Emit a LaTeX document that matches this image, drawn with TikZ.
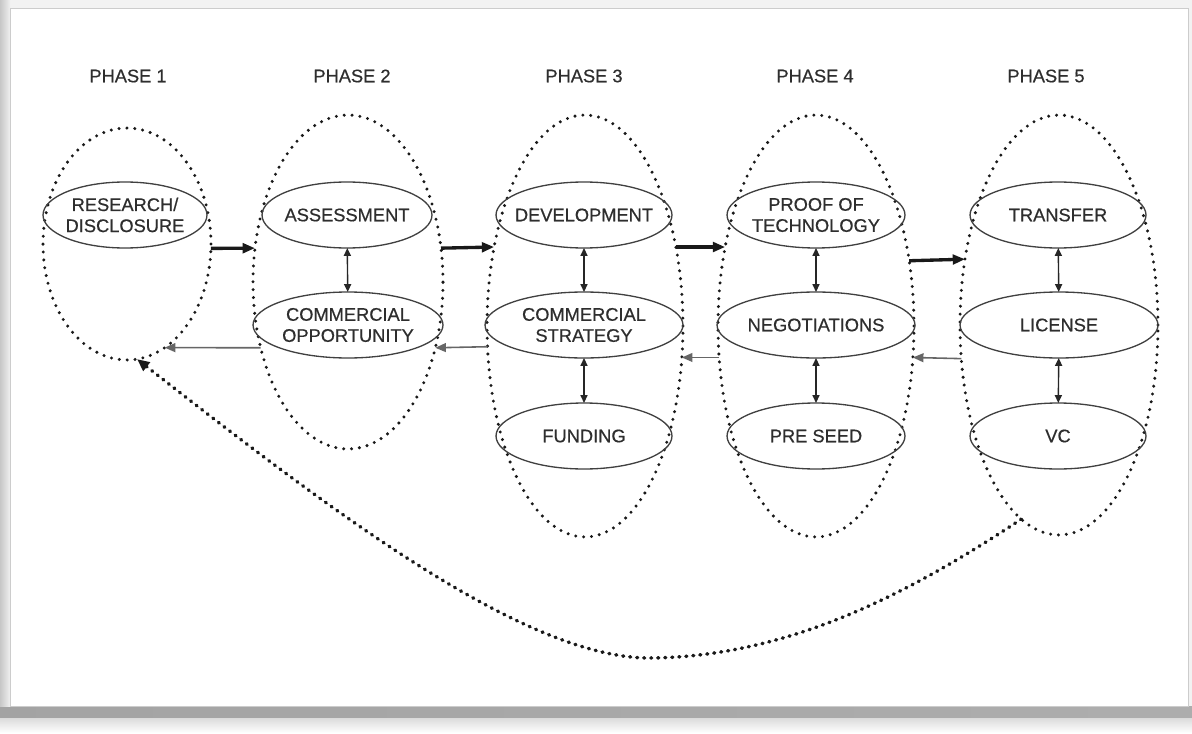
\documentclass[tikz,border=0pt]{standalone}
\usepackage{fontspec}
\setmainfont{Liberation Sans}
\newfontfamily\diagfont[FakeBold=0.5]{Liberation Sans}
\usetikzlibrary{arrows.meta,shapes.geometric}

\begin{document}
\begin{tikzpicture}[x=0.02cm, y=-0.02cm,
    every node/.style={font=\diagfont\fontsize{10.4}{12}\selectfont, text=black!82},
    phase/.style={ellipse, draw=black!90, line width=1.9pt, line cap=round,
      dash pattern=on 0pt off 4.5pt, inner sep=0pt, outer sep=0pt},
    stage/.style={ellipse, draw=black!75, line width=0.75pt, align=center,
      inner xsep=-9pt, inner ysep=-3pt, outer sep=0pt, minimum height=1.32cm},
    fwd/.style={-{Triangle[length=7pt,width=5.5pt]}, line width=1.9pt, black!90},
    back/.style={-{Triangle[length=6pt,width=5pt]}, line width=0.9pt, black!60},
    updown/.style={{Triangle[length=4.5pt,width=4pt]}-{Triangle[length=4.5pt,width=4pt]},
      line width=0.8pt, black!85},
    recycle/.style={-{Triangle[length=7pt,width=6pt]}, line width=2pt, black!90,
      line cap=round, dash pattern=on 0.5pt off 3.5pt}]
  % 画布 1192x733 px，1 px = 0.02 cm，y 向下

  % ── 背景：白板 + 阴影 ──
  \useasboundingbox (0,0) rectangle (1192,733);
  \fill[black!5] (0,0) rectangle (1192,733);
  \shade[left color=black!36, middle color=black!8, right color=black!32] (0,706) rectangle (1192,718);
  \shade[top color=black!14, bottom color=white] (0,718) rectangle (1192,733);
  \shade[left color=black!22, right color=black!6] (0,0) rectangle (10,706);
  \fill[white] (10,8) rectangle (1188,706);
  \draw[black!20, line width=0.4pt] (10,8) rectangle (1188,706);

  % ── 阶段标题 ──
  \foreach \x/\n in {128/1, 352/2, 584/3, 815/4, 1046/5}
    \node (lbl\n) at (\x,76) {PHASE \n};

  % ── 阶段外圈（点线椭圆）──
  \node[phase, minimum width=3.36cm, minimum height=4.64cm] (ph1) at (127,244) {};
  \node[phase, minimum width=3.80cm, minimum height=6.68cm] (ph2) at (348,282) {};
  \node[phase, minimum width=3.92cm, minimum height=8.44cm] (ph3) at (585,326) {};
  \node[phase, minimum width=3.92cm, minimum height=8.44cm] (ph4) at (816,326) {};
  \node[phase, minimum width=3.96cm, minimum height=8.40cm] (ph5) at (1059,325) {};

  % ── 各阶段内的步骤 ──
  % 负 inner sep：让 minimum width 决定椭圆大小，不被文字撑大
  \node[stage, minimum width=3.28cm] (res) at (125,215) {RESEARCH/\\DISCLOSURE};
  \node[stage, minimum width=3.40cm] (ass) at (347,215) {ASSESSMENT};
  \node[stage, minimum width=3.80cm] (opp) at (348,325) {COMMERCIAL\\OPPORTUNITY};
  \node[stage, minimum width=3.52cm] (dev) at (584,215) {DEVELOPMENT};
  \node[stage, minimum width=3.96cm] (str) at (584,325) {COMMERCIAL\\STRATEGY};
  \node[stage, minimum width=3.52cm] (fun) at (584,436) {FUNDING};
  \node[stage, minimum width=3.56cm] (pot) at (816,215) {PROOF OF\\TECHNOLOGY};
  \node[stage, minimum width=3.96cm] (neg) at (816,325) {NEGOTIATIONS};
  \node[stage, minimum width=3.56cm] (pre) at (816,436) {PRE SEED};
  \node[stage, minimum width=3.52cm] (tra) at (1058,215) {TRANSFER};
  \node[stage, minimum width=3.96cm] (lic) at (1059,325) {LICENSE};
  \node[stage, minimum width=3.52cm] (vc) at (1058,436) {VC};

  % ── 阶段内双向箭头 ──
  \foreach \a/\b in {ass/opp, dev/str, str/fun, pot/neg, neg/pre, tra/lic, lic/vc}
    \draw[updown] (\a) -- (\b);

  % ── 向前（粗）与回馈（细）箭头 ──
  \draw[fwd] (ph1.357) -- (ph2.160);
  \draw[fwd] (ph2.20) -- (ph3.139);
  \draw[fwd] (ph3.41) -- (ph4.139);
  \draw[fwd] (ph4.35) -- (ph5.145);
  \draw[back] (ph2.217) -- (ph1.290);
  \draw[back] (ph3.192) -- (ph2.323);
  \draw[back] (ph4.198) -- (ph3.342);
  \draw[back] (ph5.199) -- (ph4.342);

  % ── 从阶段 5 回到阶段 1 的大弧线 ──
  \coordinate (low) at (646,658);
  \draw[recycle] (ph5.259) .. controls (900,600) and (780,658) .. (low)
    .. controls (520,655) and (330,510) .. (ph1.275);
\end{tikzpicture}
\end{document}
